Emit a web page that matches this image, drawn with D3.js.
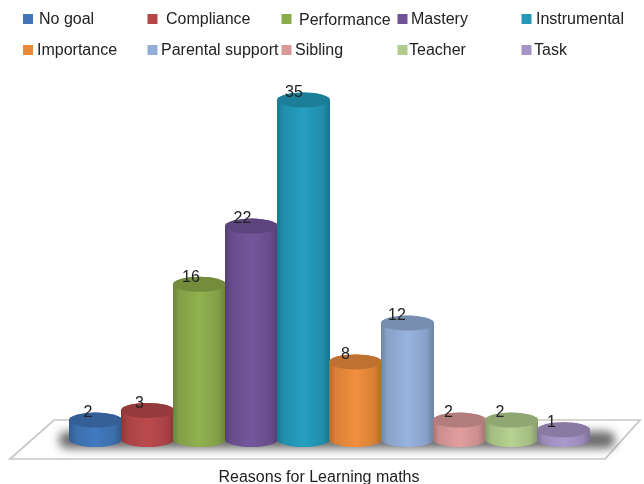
<!DOCTYPE html>
<html><head><meta charset="utf-8">
<script src="https://cdn.jsdelivr.net/npm/d3@7"></script>
<style>html,body{margin:0;padding:0;background:#fff}svg{display:block}text{font-family:"Liberation Sans",Arial,sans-serif;fill:#222}</style>
</head><body><div id="c"></div>
<script>
const categories = ["No goal","Compliance","Performance","Mastery","Instrumental","Importance","Parental support","Sibling","Teacher","Task"];
const values = [2,3,16,22,35,8,12,2,2,1];
const palette = ["#3f76b8","#b5474a","#8cab4c","#6f5396","#2599ba","#e98a3b","#92add7","#db9898","#b0cb8c","#a594c6"];
const axisTitle = "Reasons for Learning maths";

const W=644,H=484;
const svg=d3.select("#c").append("svg").attr("width",W).attr("height",H);
const defs=svg.append("defs");
defs.append("filter").attr("id","soft").attr("x","-5%").attr("y","-5%").attr("width","110%").attr("height","110%")
  .append("feGaussianBlur").attr("stdDeviation",0.5);
defs.append("filter").attr("id","txt").attr("x","-5%").attr("y","-20%").attr("width","110%").attr("height","140%")
  .append("feGaussianBlur").attr("stdDeviation",0.35);
defs.append("filter").attr("id","shadow").attr("x","-30%").attr("y","-80%").attr("width","160%").attr("height","260%")
  .append("feGaussianBlur").attr("stdDeviation",5);

const x=d3.scaleBand().domain(categories).range([69,589]).padding(0);
const xLabel=d3.scaleBand().domain(categories).range([62.25,577.25]).padding(0);
const y=d3.scaleLinear().domain([0,35]).range([439.5,100]);
const ry=7.5;

// floor
const floor=d3.line();
svg.append("path").attr("d",floor([[54,420],[640,420],[605,459],[10,459]])+"Z")
  .attr("fill","#fff").attr("stroke","#c9c6c2").attr("stroke-width",1.7).attr("filter","url(#soft)");
// shadow
svg.append("rect").attr("x",x(categories[0])-10).attr("y",y(0)-8).attr("width",x.step()*categories.length+36).attr("height",17)
  .attr("rx",8).attr("fill","#444").attr("opacity",.8).attr("filter","url(#shadow)");

categories.forEach((c,i)=>{
  const g=defs.append("linearGradient").attr("id","g"+i).attr("x1",0).attr("x2",1).attr("y1",0).attr("y2",0);
  const col=d3.color(palette[i]);
  [[0,col.darker(.75)],[.12,col.darker(.2)],[.5,col.brighter(.1)],[.85,col.darker(.2)],[1,col.darker(.8)]]
    .forEach(([o,k])=>g.append("stop").attr("offset",o).attr("stop-color",k));
});

const bars=svg.append("g").attr("filter","url(#soft)").selectAll("g").data(categories).join("g");
bars.append("path").attr("fill",(d,i)=>`url(#g${i})`).attr("d",(d,i)=>{
  const x0=x(d),x1=x0+x.bandwidth()+1,rx=(x1-x0)/2,t=y(values[i]),b=y(0);
  return `M${x0},${t}L${x0},${b}A${rx},${ry} 0 0 0 ${x1},${b}L${x1},${t}A${rx},${ry} 0 0 0 ${x0},${t}Z`;
});
bars.append("ellipse").attr("cx",d=>x(d)+x.bandwidth()/2+.5).attr("cy",(d,i)=>y(values[i]))
  .attr("rx",x.bandwidth()/2+.5).attr("ry",ry)
  .attr("fill",(d,i)=>d3.color(palette[i]).darker(.55));

svg.append("g").attr("filter","url(#txt)").selectAll("text").data(categories).join("text")
  .attr("x",d=>xLabel(d)+xLabel.bandwidth()/2).attr("y",(d,i)=>y(values[i])-2.8)
  .attr("text-anchor","middle").attr("font-size",16).text((d,i)=>values[i]);

// legend layout
const legendSwatchX=[23.5,148,282,398,522,23.5,148,282,398,522];
const legendTextX=[39,166,299,411,536,37,161,295,409,534];
const legendBaseline=[24,24,25,24,24,55,55,55,55,55];
const legendSwatchY=[19,19,19,19,19,50,50,50,50,50];
const lg=svg.append("g").attr("filter","url(#txt)").selectAll("g").data(categories).join("g");
lg.append("rect").attr("x",(d,i)=>legendSwatchX[i]-.5).attr("y",(d,i)=>legendSwatchY[i]-5).attr("width",10).attr("height",10)
  .attr("fill",(d,i)=>palette[i]);
lg.append("text").attr("x",(d,i)=>legendTextX[i]).attr("y",(d,i)=>legendBaseline[i]).attr("font-size",16).text(d=>d);

svg.append("text").attr("filter","url(#txt)").attr("x",319).attr("y",482).attr("text-anchor","middle").attr("font-size",16).text(axisTitle);
</script></body></html>
